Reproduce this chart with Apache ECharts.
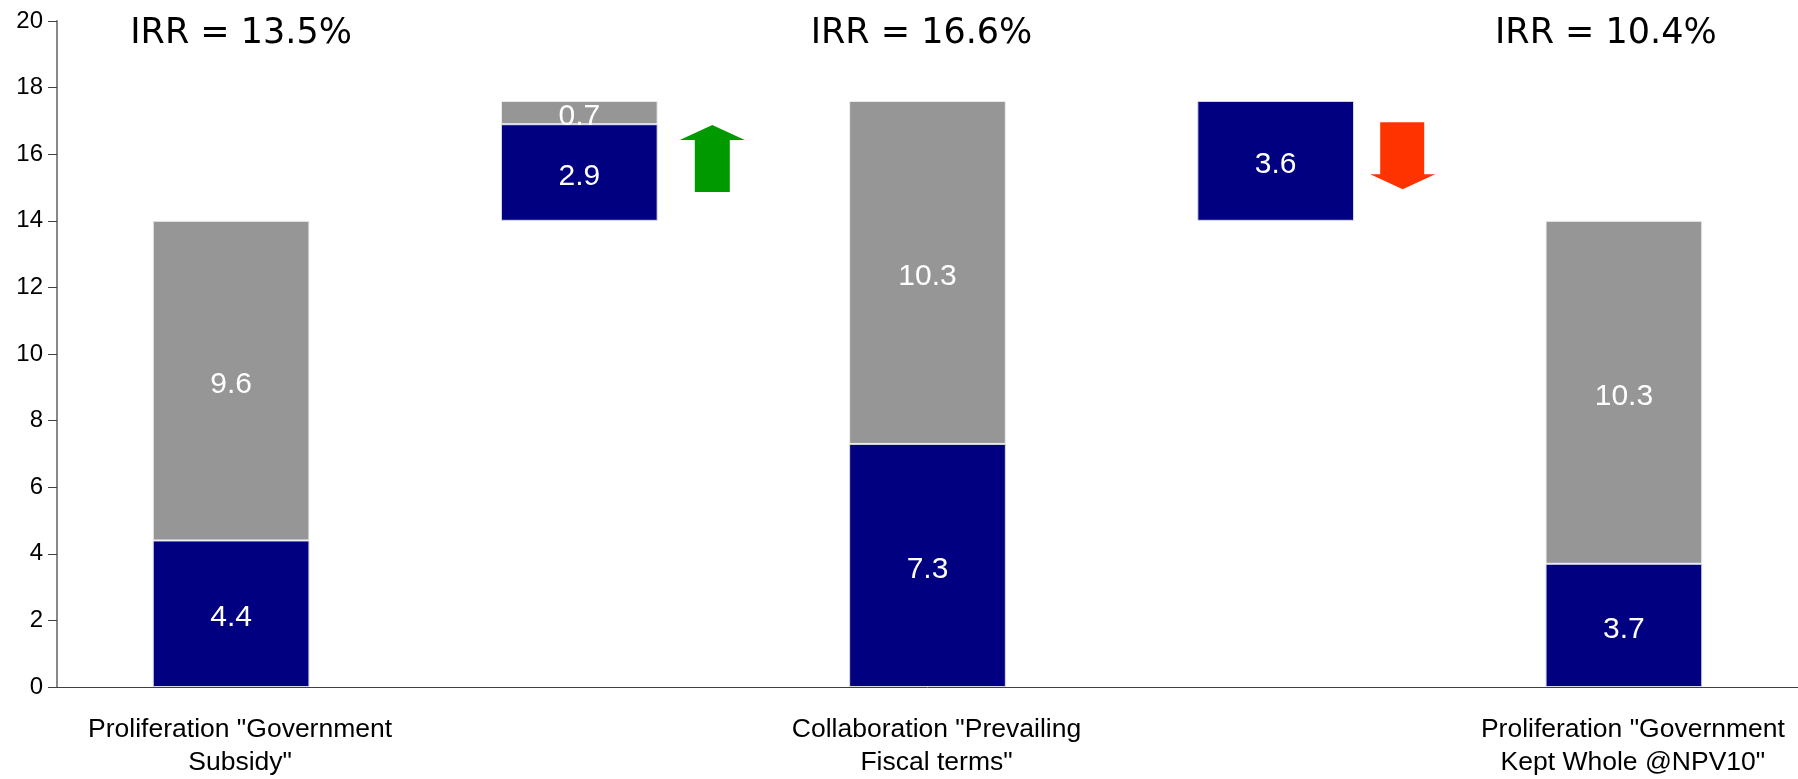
<!DOCTYPE html>
<html>
<head>
<meta charset="utf-8">
<title>IRR bridge</title>
<script src="https://cdn.jsdelivr.net/npm/echarts@6/dist/echarts.min.js"></script>
<style>
  html, body { margin: 0; padding: 0; background: #ffffff; }
  #chart { width: 1798px; height: 779px; }
</style>
</head>
<body>
<div id="chart"></div>
<script>
// 分类与数值
const categories = [
  'Proliferation "Government\nSubsidy"',
  '',
  'Collaboration "Prevailing\nFiscal terms"',
  '',
  'Proliferation "Government\nKept Whole @NPV10"'
]
const baseValues = [0, 14, 0, 14, 0]
const navyValues = [4.4, 2.9, 7.3, 3.6, 3.7]
const greyValues = [9.6, 0.7, 10.3, null, 10.3]

const irrLabels = ['IRR = 13.5%', '', 'IRR = 16.6%', '', 'IRR = 10.4%']
const irrLevel = 19.62

// arrows: [category index, value at arrow centre]
const upArrow = [[1, 15.87]]
const downArrow = [[3, 15.95]]

const yTicks = { min: 0, max: 20, interval: 2 }

// small horizontal nudges for the IRR captions (px)
const irrShift = [10, 0, -6, 0, -18]

const chart = echarts.init(document.getElementById('chart'))

const barLabel = {
  show: true,
  position: 'inside',
  offset: [0, 4],
  color: '#ffffff',
  fontSize: 30,
  fontFamily: 'Liberation Sans, Arial, sans-serif',
}

const option = {
  animation: false,
  grid: { left: 57, right: 0, top: 21, bottom: 91 },
  xAxis: {
    type: 'category',
    data: categories,
    axisLine: { lineStyle: { color: '#404040', width: 1 } },
    axisTick: { show: false },
    axisLabel: {
      interval: 0,
      margin: 26,
      padding: [0, 0, 0, 18],
      color: '#000000',
      fontSize: 26.5,
      lineHeight: 33,
      fontFamily: 'Liberation Sans, Arial, sans-serif',
    },
  },
  yAxis: {
    type: 'value',
    min: yTicks.min,
    max: yTicks.max,
    interval: yTicks.interval,
    splitLine: { show: false },
    axisLine: { show: true, lineStyle: { color: '#888888', width: 2 } },
    axisTick: { show: true, length: 9, lineStyle: { color: '#404040' } },
    axisLabel: {
      margin: 14,
      color: '#000000',
      fontSize: 24,
      fontFamily: 'Liberation Sans, Arial, sans-serif',
    },
  },
  series: [
    {
      name: 'base',
      type: 'bar',
      stack: 'total',
      barWidth: '45%',
      itemStyle: { color: 'transparent' },
      silent: true,
      data: baseValues,
    },
    {
      name: 'navy',
      type: 'bar',
      stack: 'total',
      barWidth: '45%',
      itemStyle: { color: '#000080', borderColor: '#d8d8e8', borderWidth: 1 },
      label: barLabel,
      data: navyValues,
    },
    {
      name: 'grey',
      type: 'bar',
      stack: 'total',
      barWidth: '45%',
      itemStyle: { color: '#969696', borderColor: '#eeeeee', borderWidth: 1 },
      label: barLabel,
      data: greyValues,
    },
    {
      name: 'irr',
      type: 'scatter',
      symbolSize: 0,
      silent: true,
      itemStyle: { opacity: 1 },
      data: irrLabels.map((t, i) => ({
        value: t ? [i, irrLevel] : [i, null],
        label: {
          show: !!t,
          position: 'inside',
          offset: [irrShift[i], 0],
          color: '#000000',
          fontSize: 35,
          fontFamily: 'DejaVu Sans, Verdana, sans-serif',
          formatter: t,
        },
      })),
    },
    {
      name: 'up',
      type: 'scatter',
      silent: true,
      symbol: 'path://M32.5,0 L65,15 L50,15 L50,67 L15,67 L15,15 L0,15 Z',
      symbolSize: [65, 67],
      symbolOffset: [133, 0],
      itemStyle: { color: '#009900', opacity: 1 },
      data: upArrow,
    },
    {
      name: 'down',
      type: 'scatter',
      silent: true,
      symbol: 'path://M10,0 L54,0 L54,52 L65,52 L32.5,67 L0,52 L10,52 Z',
      symbolSize: [65, 67],
      symbolOffset: [127, 0],
      itemStyle: { color: '#ff3300', opacity: 1 },
      data: downArrow,
    },
  ],
}

chart.setOption(option)
window.addEventListener('resize', () => chart.resize())
</script>
</body>
</html>
